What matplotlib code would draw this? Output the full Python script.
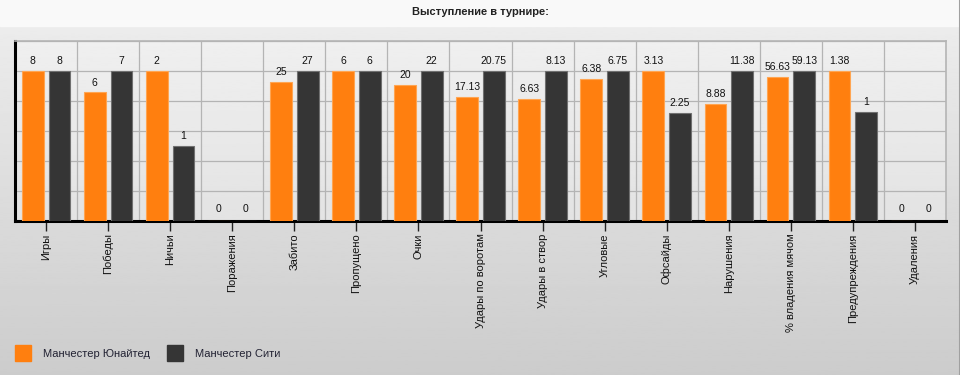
import numpy as np
import matplotlib.pyplot as plt
from matplotlib.patches import Rectangle

plt.rcParams['font.family'] = ['Liberation Sans', 'DejaVu Sans']

# data
categories = ['Игры', 'Победы', 'Ничьи', 'Поражения', 'Забито', 'Пропущено', 'Очки',
              'Удары по воротам', 'Удары в створ', 'Угловые', 'Офсайды', 'Нарушения',
              '% владения мячом', 'Предупреждения', 'Удаления']
united = [8, 6, 2, 0, 25, 6, 20, 17.13, 6.63, 6.38, 3.13, 8.88, 56.63, 1.38, 0]
city = [8, 7, 1, 0, 27, 6, 22, 20.75, 8.13, 6.75, 2.25, 11.38, 59.13, 1, 0]
team_names = ['Манчестер Юнайтед', 'Манчестер Сити']

orange = '#ff7f0f'
dark = '#353535'

# each category is scaled so that the larger value reaches 5 of 6 grid units
u = np.array(united, dtype=float)
c = np.array(city, dtype=float)
pair_max = np.maximum(u, c)
pair_max[pair_max == 0] = 1
u_h = u / pair_max * 5
c_h = c / pair_max * 5

fig = plt.figure(figsize=(9.6, 3.75), dpi=100)

# background: light header band + grey gradient
bg = fig.add_axes([0, 0, 1, 1], zorder=-10)
grad = np.linspace(0.80, 0.925, 256).reshape(-1, 1)
bg.imshow(grad, extent=[0, 1, 0, 1 - 26 / 375], aspect='auto', cmap='gray',
          vmin=0, vmax=1, origin='lower')
bg.add_patch(Rectangle((0, 1 - 26 / 375), 1, 26 / 375, color='#f9f9f9'))
bg.axvline(1 - 0.5 / 960, color='#a0a0a0', lw=1.5)
bg.set_xlim(0, 1)
bg.set_ylim(0, 1)
bg.axis('off')

fig.text(0.5, 1 - 12 / 375, 'Выступление в турнире:', ha='center', va='center',
         fontsize=8, fontweight='bold', color='#222222')

ax = fig.add_axes([15 / 960, 1 - 221 / 375, 931 / 960, 180 / 375])
ax.set_facecolor((1, 1, 1, 0.25))

x = np.arange(len(categories))
w = 0.35
b1 = ax.bar(x - 0.215, u_h, w, color=orange, edgecolor='#ffa552', linewidth=0.8, zorder=3)
b2 = ax.bar(x + 0.215, c_h, w, color=dark, edgecolor='#707070', linewidth=0.8, zorder=3)

for bars, vals in ((b1, united), (b2, city)):
    for rect, v in zip(bars, vals):
        ax.annotate(f'{v:g}', (rect.get_x() + rect.get_width() / 2, rect.get_height()),
                    xytext=(0, 3.5 if v else 5), textcoords='offset points',
                    ha='center', va='bottom', fontsize=7.5, color='#111111', zorder=4)

ax.set_xlim(-0.5, len(categories) - 0.5)
ax.set_ylim(0, 6)
ax.set_xticks(x)
ax.set_xticklabels(categories, rotation=90, fontsize=8, color='#111111')
ax.set_xticks(x[:-1] + 0.5, minor=True)
ax.set_yticks(np.arange(0, 7, 1))
ax.tick_params(axis='x', which='major', length=7, width=1, color='#222222', pad=2)
ax.tick_params(axis='x', which='minor', length=0)
ax.tick_params(axis='y', length=0, labelleft=False)
ax.grid(axis='y', color='#b4b4b4', lw=0.9, zorder=0)
ax.grid(axis='x', which='minor', color='#b4b4b4', lw=0.9, zorder=0)

ax.spines['left'].set_linewidth(2.2)
ax.spines['left'].set_color('black')
ax.spines['bottom'].set_linewidth(2.2)
ax.spines['bottom'].set_color('black')
ax.spines['top'].set_color('#b4b4b4')
ax.spines['right'].set_color('#b4b4b4')
ax.spines['top'].set_linewidth(1.2)
ax.spines['right'].set_linewidth(1.2)

# legend
for i, (name, col) in enumerate(zip(team_names, [orange, dark])):
    x0 = (15 + i * 152) / 960
    bg.add_patch(Rectangle((x0, 1 - 361 / 375), 16 / 960, 16 / 375, color=col))
    fig.text(x0 + 28 / 960, 1 - 354 / 375, name, fontsize=8, va='center', color='#222233')

fig.savefig('out.png', dpi=100)
